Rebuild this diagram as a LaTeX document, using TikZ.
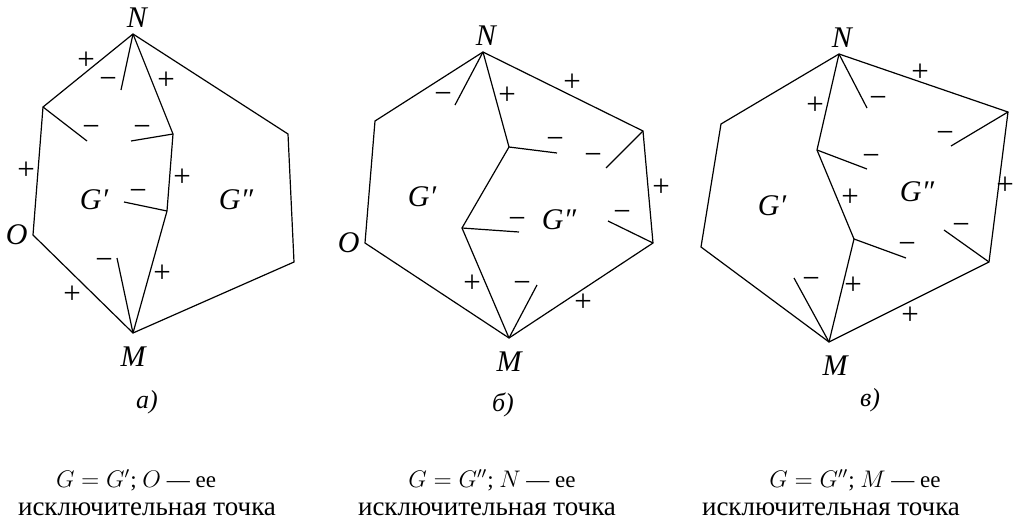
\documentclass[tikz,border=0pt]{standalone}
\usepackage{fontspec}
\setmainfont{Liberation Serif}
\usetikzlibrary{positioning}

\begin{document}
\begin{tikzpicture}[
    x=0.5pt, y=-0.5pt,
    every node/.style={align=center, inner sep=0pt},
    edge/.style={line width=0.6pt, line join=miter},
    pnt/.style={font=\fontsize{15}{17}\selectfont\itshape},
    sgn/.style={font=\fontsize{15.5}{17}\selectfont},
    capt/.style={font=\fontsize{13.5}{16}\selectfont},
    form/.style={font=\fontsize{11.5}{14}\selectfont},
    tag/.style={font=\fontsize{13}{15}\selectfont\itshape}
]
\useasboundingbox (0,0) rectangle (1014,520);

% Panel a: vertices
\coordinate (aN) at (133,34);
\coordinate (aL) at (43,107);
\coordinate (aO) at (33,235);
\coordinate (aM) at (133,333);
\coordinate (aR1) at (288,134);
\coordinate (aR2) at (294,262);
\coordinate (aI1) at (173,134);
\coordinate (aI2) at (167,211);
\coordinate (aS1) at (121,90);
\coordinate (aS2) at (87,141);
\coordinate (aS3) at (131,141);
\coordinate (aS4) at (124,202);
\coordinate (aS5) at (117,258);

\draw[edge] (aN) -- (aL) -- (aO) -- (aM) -- (aR2) -- (aR1) -- cycle;
\draw[edge] (aN) -- (aI1) -- (aI2) -- (aM);
\draw[edge] (aN) -- (aS1);
\draw[edge] (aL) -- (aS2);
\draw[edge] (aI1) -- (aS3);
\draw[edge] (aI2) -- (aS4);
\draw[edge] (aM) -- (aS5);

\node[pnt, above=3pt of aN, xshift=2pt] (aNl) {N};
\node[pnt, below=6.5pt of aM] (aMl) {M};
\node[pnt, left=2.5pt of aO] (aOl) {O};
\node[pnt] (aG1) at (94,200) {G′};
\node[pnt] (aG2) at (236,200) {G″};

\node[sgn] (am1) at (108,83) {−};
\node[sgn] (am2) at (91,131) {−};
\node[sgn] (am3) at (142,131) {−};
\node[sgn] (am4) at (138,195) {−};
\node[sgn] (am5) at (104,264) {−};
\node[sgn] (ap1) at (86,61) {+};
\node[sgn] (ap2) at (166,81) {+};
\node[sgn] (ap3) at (26,171) {+};
\node[sgn] (ap4) at (182,178) {+};
\node[sgn] (ap5) at (162,274) {+};
\node[sgn] (ap6) at (72,295) {+};

% Panel b: vertices
\coordinate (bN) at (483,52);
\coordinate (bL) at (375,121);
\coordinate (bO) at (365,243);
\coordinate (bM) at (509,338);
\coordinate (bR1) at (643,131);
\coordinate (bR2) at (653,243);
\coordinate (bI1) at (509,147);
\coordinate (bI2) at (462,228);
\coordinate (bS1) at (455,105);
\coordinate (bS2) at (557,153);
\coordinate (bS3) at (606,168);
\coordinate (bS4) at (519,232);
\coordinate (bS5) at (608,221);
\coordinate (bS6) at (537,285);

\draw[edge] (bN) -- (bL) -- (bO) -- (bM) -- (bR2) -- (bR1) -- cycle;
\draw[edge] (bN) -- (bI1) -- (bI2) -- (bM);
\draw[edge] (bN) -- (bS1);
\draw[edge] (bI1) -- (bS2);
\draw[edge] (bR1) -- (bS3);
\draw[edge] (bI2) -- (bS4);
\draw[edge] (bR2) -- (bS5);
\draw[edge] (bM) -- (bS6);

\node[pnt, above=3pt of bN, xshift=1.5pt] (bNl) {N};
\node[pnt, below=6.5pt of bM] (bMl) {M};
\node[pnt, left=2.5pt of bO] (bOl) {O};
\node[pnt] (bG1) at (422,197) {G′};
\node[pnt] (bG2) at (559,220) {G″};

\node[sgn] (bm1) at (443,98) {−};
\node[sgn] (bm2) at (555,143) {−};
\node[sgn] (bm3) at (593,159) {−};
\node[sgn] (bm4) at (517,223) {−};
\node[sgn] (bm5) at (622,216) {−};
\node[sgn] (bm6) at (522,287) {−};
\node[sgn] (bp1) at (572,83) {+};
\node[sgn] (bp2) at (507,96) {+};
\node[sgn] (bp3) at (661,188) {+};
\node[sgn] (bp4) at (472,284) {+};
\node[sgn] (bp5) at (583,303) {+};

% Panel c: vertices
\coordinate (cN) at (839,54);
\coordinate (cL1) at (721,124);
\coordinate (cL2) at (701,247);
\coordinate (cM) at (829,342);
\coordinate (cR1) at (1008,112);
\coordinate (cR2) at (989,262);
\coordinate (cI1) at (817,150);
\coordinate (cI2) at (854,239);
\coordinate (cS1) at (867,108);
\coordinate (cS2) at (867,169);
\coordinate (cS3) at (951,146);
\coordinate (cS4) at (906,258);
\coordinate (cS5) at (944,230);
\coordinate (cS6) at (794,278);

\draw[edge] (cN) -- (cL1) -- (cL2) -- (cM) -- (cR2) -- (cR1) -- cycle;
\draw[edge] (cN) -- (cI1) -- (cI2) -- (cM);
\draw[edge] (cN) -- (cS1);
\draw[edge] (cI1) -- (cS2);
\draw[edge] (cR1) -- (cS3);
\draw[edge] (cI2) -- (cS4);
\draw[edge] (cR2) -- (cS5);
\draw[edge] (cM) -- (cS6);

\node[pnt, above=3pt of cN, xshift=1.5pt] (cNl) {N};
\node[pnt, below=6.5pt of cM, xshift=3pt] (cMl) {M};
\node[pnt] (cG1) at (772,206) {G′};
\node[pnt] (cG2) at (917,192) {G″};

\node[sgn] (cm1) at (878,102) {−};
\node[sgn] (cm2) at (871,160) {−};
\node[sgn] (cm3) at (945,137) {−};
\node[sgn] (cm4) at (907,248) {−};
\node[sgn] (cm5) at (961,229) {−};
\node[sgn] (cm6) at (811,283) {−};
\node[sgn] (cp1) at (920,73) {+};
\node[sgn] (cp2) at (815,106) {+};
\node[sgn] (cp3) at (1005,186) {+};
\node[sgn] (cp4) at (850,198) {+};
\node[sgn] (cp5) at (853,286) {+};
\node[sgn] (cp6) at (910,316) {+};

% Captions
\node[tag] (atag) at (147,402) {а)};
\node[tag] (btag) at (503,405) {б)};
\node[tag] (ctag) at (870,400) {в)};

\node[form] (acap1) at (136,480) {$G = G'$; $O$ — ее};
\node[capt] (acap2) at (147,509) {исключительная точка};
\node[form] (bcap1) at (492,480) {$G = G''$; $N$ — ее};
\node[capt] (bcap2) at (487,509) {исключительная точка};
\node[form] (ccap1) at (855,480) {$G = G''$; $M$ — ее};
\node[capt] (ccap2) at (831,509) {исключительная точка};
\end{tikzpicture}
\end{document}
